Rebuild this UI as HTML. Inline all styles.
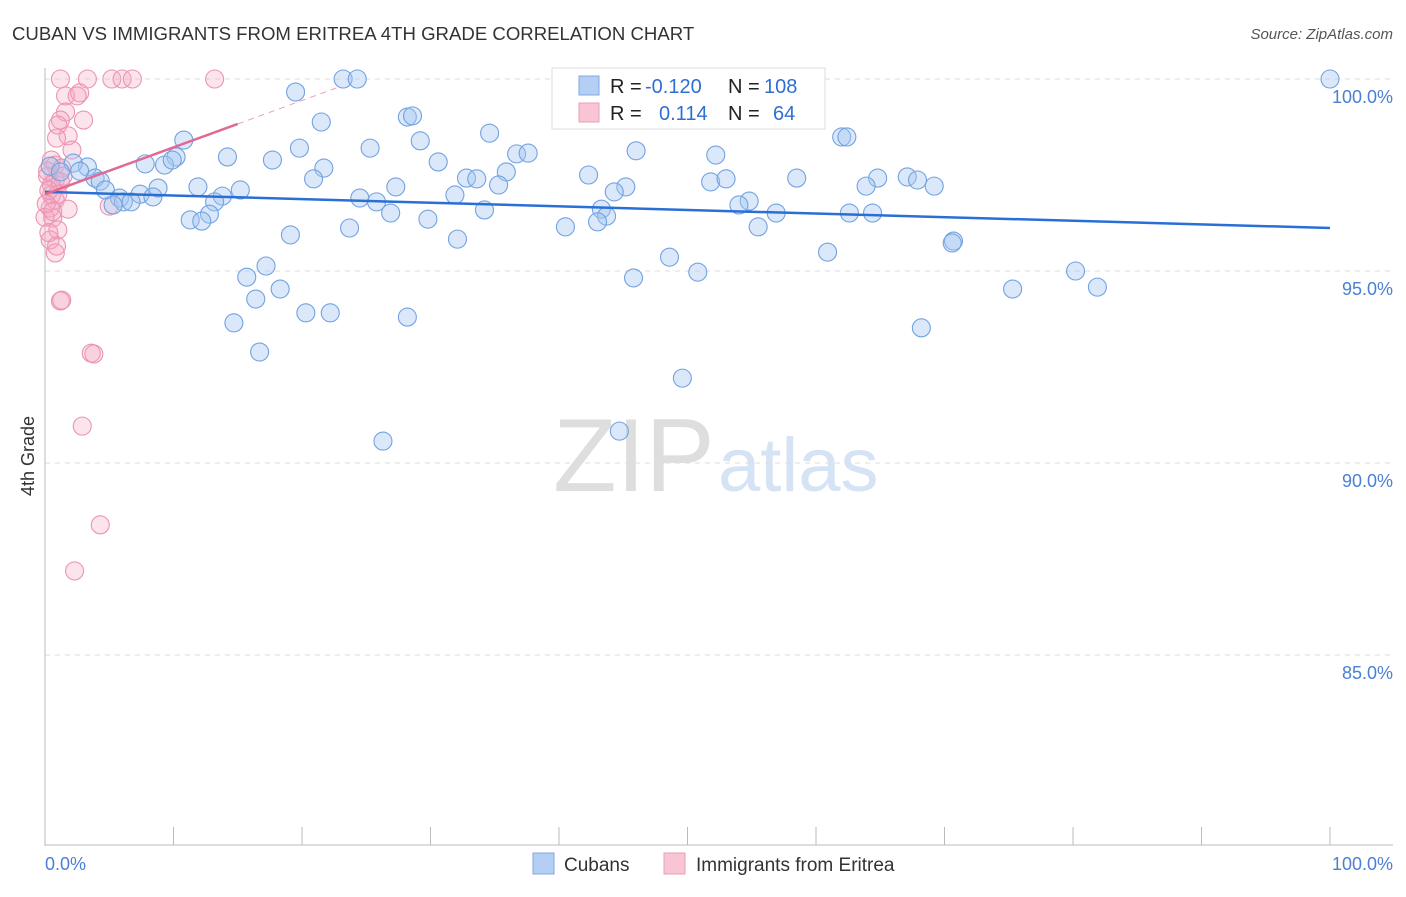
<!DOCTYPE html>
<html><head><meta charset="utf-8"><style>
body{margin:0;background:#fff;font-family:"Liberation Sans",sans-serif}
svg text{font-family:"Liberation Sans",sans-serif}
</style></head><body>
<svg id="chart" width="1406" height="892" xmlns="http://www.w3.org/2000/svg">
<text x="12" y="40" font-size="18.6" fill="#333">CUBAN VS IMMIGRANTS FROM ERITREA 4TH GRADE CORRELATION CHART</text>
<text x="1393" y="39" font-size="15" fill="#555" text-anchor="end" font-style="italic">Source: ZipAtlas.com</text>
<g>
<text x="553" y="491" font-size="104" fill="#dedede" text-anchor="start" font-family="Liberation Serif">ZIP</text>
<text x="718" y="491" font-size="76" fill="#d5e3f5" text-anchor="start">atlas</text>
</g>
<g id="grid"></g>
<g id="axes"></g>
<g id="pts"></g>
<g id="trends"></g>
<text transform="translate(34,456) rotate(-90)" font-size="18" fill="#333" text-anchor="middle">4th Grade</text>
<g>
<rect x="552" y="68" width="273" height="61" fill="#fff" stroke="#ddd"/>
<rect x="579" y="76" width="20" height="19" fill="#b4cff3" stroke="#7ea8e4"/>
<rect x="579" y="103" width="20" height="19" fill="#f9c5d4" stroke="#ec9db5"/>
<text x="610" y="93" font-size="20" fill="#222">R =</text>
<text x="645" y="93" font-size="20" fill="#2f6fd4">-0.120</text>
<text x="728" y="93" font-size="20" fill="#222">N =</text>
<text x="764" y="93" font-size="20" fill="#2f6fd4">108</text>
<text x="610" y="120" font-size="20" fill="#222">R =</text>
<text x="659" y="120" font-size="20" fill="#2f6fd4">0.114</text>
<text x="728" y="120" font-size="20" fill="#222">N =</text>
<text x="773" y="120" font-size="20" fill="#2f6fd4">64</text>
</g>
<g>
<rect x="533" y="853" width="21" height="21" fill="#b4cff3" stroke="#7ea8e4"/>
<text x="564" y="871" font-size="19" fill="#333">Cubans</text>
<rect x="664" y="853" width="21" height="21" fill="#f9c5d4" stroke="#ec9db5"/>
<text x="696" y="871" font-size="19" fill="#333">Immigrants from Eritrea</text>
</g>
</svg>
<script>
const blueX=[100,23.2,24.3,19.5,21.5,28.2,28.6,29.2,34.6,10.8,19.8,25.3,36.7,37.6,46.0,52.2,62,62.4,10.2,14.2,17.7,30.6,21.7,7.8,9.3,9.9,3.3,2.2,2.7,0.4,1.2,3.9,4.3,20.9,32.8,33.6,35.9,35.3,42.3,51.8,53,58.5,64.8,63.9,67.1,67.9,69.2,27.3,45.2,44.3,11.9,8.8,15.2,4.7,7.4,8.4,5.8,6.1,6.7,5.3,13.8,13.2,24.5,25.8,31.9,54.8,54,43.3,43.7,43,34.2,26.9,29.8,12.8,11.3,12.2,56.9,62.6,64.4,40.5,23.7,55.5,19.1,32.1,70.7,70.6,60.9,48.6,17.2,15.7,80.2,50.8,45.8,18.3,75.3,81.9,16.4,20.3,22.2,28.2,14.7,68.2,16.7,49.6,44.7,26.3];
const blueY=[100,100,100,99.66,98.88,99.01,99.04,98.39,98.59,98.41,98.2,98.2,98.05,98.07,98.13,98.02,98.49,98.49,97.97,97.97,97.89,97.84,97.68,97.79,97.76,97.89,97.71,97.81,97.6,97.73,97.58,97.42,97.34,97.4,97.42,97.4,97.58,97.24,97.5,97.32,97.4,97.42,97.42,97.21,97.45,97.37,97.21,97.19,97.19,97.06,97.19,97.16,97.11,97.11,97.0,96.93,96.9,96.8,96.8,96.72,96.95,96.8,96.9,96.8,96.98,96.82,96.72,96.61,96.43,96.28,96.59,96.51,96.35,96.48,96.33,96.3,96.51,96.51,96.51,96.15,96.12,96.15,95.94,95.83,95.78,95.73,95.49,95.36,95.13,94.84,95,94.97,94.82,94.53,94.53,94.58,94.27,93.91,93.91,93.8,93.65,93.52,92.89,92.21,90.83,90.57];
const pinkX=[1.2,3.3,5.2,6,6.8,13.2,1.6,2.7,2.5,1.6,1.2,1.0,3.0,1.8,0.9,2.1,0.5,0.8,1.3,0.2,0.8,1.4,0.5,1.2,0.5,0.8,0.4,1.8,5.0,0.6,1.0,0.4,0.8,1.2,1.3,3.6,3.8,2.9,4.3,2.3,0.2,0,0.3,0.9,0.3,1.0,0.1,0.6];
const pinkY=[100,100,100,100,100,100,99.56,99.64,99.56,99.14,98.93,98.8,98.93,98.52,98.46,98.15,97.89,97.76,97.68,97.47,97.37,97.47,97.24,97.32,96.98,96.85,96.64,96.61,96.69,96.38,96.07,95.81,95.47,94.22,94.24,92.86,92.84,90.96,88.39,87.19,97.6,96.4,96.0,95.65,97.1,97.0,96.75,96.55];
const yTicks=[100,95,90,85];
const yTickLabels=["100.0%","95.0%","90.0%","85.0%"];
const xTickLabels=["0.0%","100.0%"];
const blueTrend=[97.06,-0.0094];
const pinkTrend=[97.0,0.122];
const NS='http://www.w3.org/2000/svg';
const X0=45,X1=1330,Ytop=79,Ybot=847;
const sx=v=>X0+(X1-X0)*v/100;
const sy=v=>Ytop+(100-v)*(Ybot-Ytop)/20;
function mk(t,a,p){const e=document.createElementNS(NS,t);for(const k in a)e.setAttribute(k,a[k]);p.appendChild(e);return e;}
const grid=document.getElementById('grid'),axes=document.getElementById('axes'),pts=document.getElementById('pts'),tr=document.getElementById('trends');
yTicks.forEach((v,i)=>{
 const l=mk('line',{x1:X0,x2:1393,y1:sy(v),y2:sy(v),stroke:'#ddd','stroke-dasharray':'5,5'},grid);
 
 
 const t=mk('text',{x:1393,y:sy(v)+24,'font-size':18,fill:'#4a7fd4','text-anchor':'end'},axes);
 t.textContent=yTickLabels[i];
 
 
});
const ya=mk('line',{x1:X0,x2:X0,y1:68,y2:846,stroke:'#bbb'},axes);


const xa=mk('line',{x1:X0,x2:1393,y1:845,y2:845,stroke:'#bbb'},axes);


for(let i=0;i<=10;i++){
 const tk=mk('line',{x1:sx(i*10),x2:sx(i*10),y1:827,y2:845,stroke:'#bbb'},axes);
 
 
}
const xl0=mk('text',{x:45,y:870,'font-size':18,fill:'#4a7fd4'},axes);xl0.textContent=xTickLabels[0];


const xl1=mk('text',{x:1393,y:870,'font-size':18,fill:'#4a7fd4','text-anchor':'end'},axes);xl1.textContent=xTickLabels[1];


pinkX.forEach((x,i)=>{
 const c=mk('circle',{cx:sx(x),cy:sy(pinkY[i]),r:9,fill:'rgba(245,165,195,0.3)',stroke:'#eb94b0','stroke-width':1.1},pts);
 
 
});
blueX.forEach((x,i)=>{
 const c=mk('circle',{cx:sx(x),cy:sy(blueY[i]),r:9,fill:'rgba(165,198,240,0.4)',stroke:'#72a2e2','stroke-width':1.1},pts);
 
 
});
const bl=mk('line',{x1:sx(0),y1:sy(blueTrend[0]),x2:sx(100),y2:sy(blueTrend[0]+blueTrend[1]*100),stroke:'#2a6fd6','stroke-width':2.5},tr);


const pl=mk('line',{x1:sx(0),y1:sy(pinkTrend[0]),x2:sx(15),y2:sy(pinkTrend[0]+pinkTrend[1]*15),stroke:'#e06a94','stroke-width':2.5},tr);


const pd=mk('line',{x1:sx(15),y1:sy(pinkTrend[0]+pinkTrend[1]*15),x2:sx(23),y2:sy(pinkTrend[0]+pinkTrend[1]*23),stroke:'#eba0bb','stroke-width':1,'stroke-dasharray':'6,5'},tr);


</script>
</body></html>
